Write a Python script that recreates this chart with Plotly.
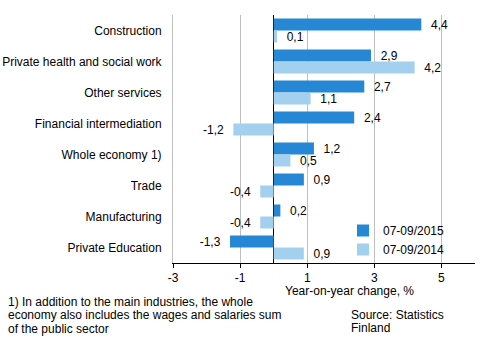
import plotly.graph_objects as go

categories = ["Construction", "Private health and social work", "Other services",
              "Financial intermediation", "Whole economy 1)", "Trade",
              "Manufacturing", "Private Education"]
values_2015 = [4.4, 2.9, 2.7, 2.4, 1.2, 0.9, 0.2, -1.3]
values_2014 = [0.1, 4.2, 1.1, -1.2, 0.5, -0.4, -0.4, 0.9]
series_names = ["07-09/2015", "07-09/2014"]
tick_vals = [-3, -1, 1, 3, 5]
footnote_lines = ["1) In addition to the main industries, the whole",
                  "economy also includes the wages and salaries sum",
                  "of the public sector"]
source_lines = ["Source: Statistics", "Finland"]

FONT = "Liberation Sans, Arial, sans-serif"
NB = "\u00a0"


def label(v):
    s = f"{v:.1f}".replace(".", ",")
    return (NB * 2 + s) if v >= 0 else (s + NB * 2)


fig = go.Figure()
for name, vals, col in [(series_names[0], values_2015, "#2688d4"),
                        (series_names[1], values_2014, "#a4d0ef")]:
    fig.add_trace(go.Bar(
        y=categories, x=vals, name=name, orientation="h",
        marker=dict(color=col, line=dict(width=0)),
        text=[label(v) for v in vals], textposition="outside",
        constraintext="none",
        textfont=dict(family=FONT, size=12, color="#000"),
        cliponaxis=False,
    ))

pw, ph = 494 - 173 - 19, 339 - 15 - 76


def px_x(p):
    return (p - 173) / pw


def px_y(p):
    return (339 - 76 - p) / ph


anns = [dict(text="Year-on-year change, %", x=px_x(349), y=px_y(291),
             xanchor="center", yanchor="middle")]
for i, t in enumerate(footnote_lines):
    anns.append(dict(text=t, x=px_x(6), y=px_y(302 + 13.3 * i),
                     xanchor="left", yanchor="middle"))
for i, t in enumerate(source_lines):
    anns.append(dict(text=t, x=px_x(349), y=px_y(315 + 13.3 * i),
                     xanchor="left", yanchor="middle"))
for a in anns:
    a.update(xref="paper", yref="paper", showarrow=False, align="left",
             font=dict(size=12, family=FONT, color="#000"))

fig.update_layout(
    width=494, height=339,
    margin=dict(l=173, r=19, t=15, b=76),
    barmode="group", bargap=0.226, bargroupgap=0,
    plot_bgcolor="white", paper_bgcolor="white",
    font=dict(family=FONT, size=12, color="#000"),
    showlegend=True,
    legend=dict(x=px_x(343), y=px_y(216), xanchor="left", yanchor="top",
                bgcolor="rgba(0,0,0,0)", font=dict(size=12),
                itemwidth=30, tracegroupgap=0, traceorder="normal"),
    xaxis=dict(range=[-3, 6], tickvals=tick_vals, ticktext=[str(t) for t in tick_vals],
               showgrid=True, gridcolor="#bfbfbf", gridwidth=1,
               zeroline=True, zerolinecolor="#000", zerolinewidth=1,
               showline=True, linecolor="#000", linewidth=1,
               ticks="outside", ticklen=4, tickcolor="#000",
               tickfont=dict(size=12), automargin=False),
    yaxis=dict(autorange="reversed", showgrid=False, ticks="",
               showline=True, linecolor="#bfbfbf", linewidth=1,
               ticklabelstandoff=8, tickfont=dict(size=12), automargin=False),
    annotations=anns,
)

fig.write_html("out.html")
